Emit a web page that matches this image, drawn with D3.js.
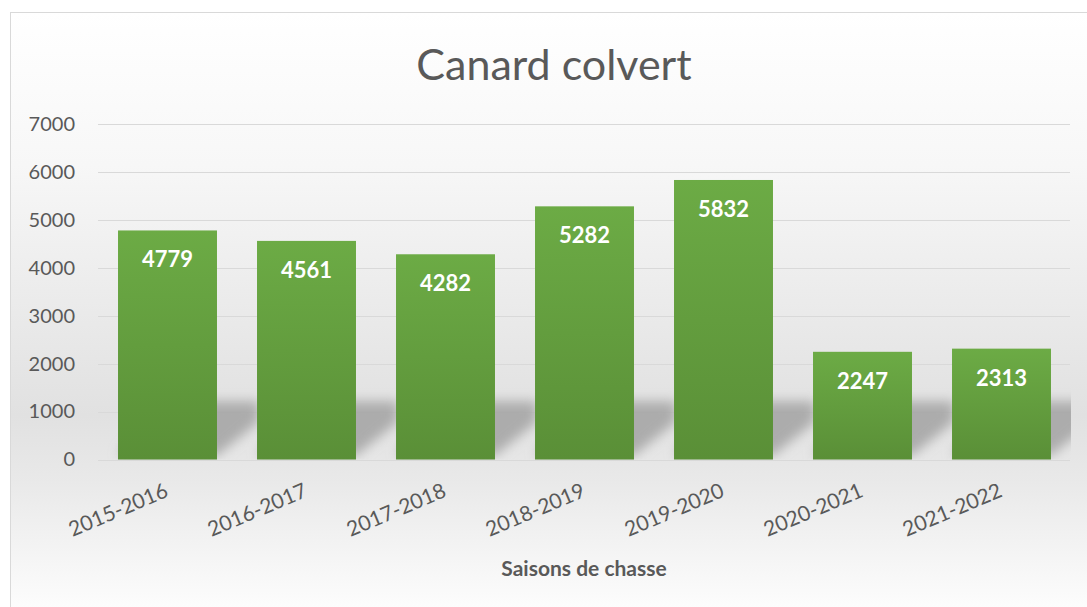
<!DOCTYPE html>
<html>
<head>
<meta charset="utf-8">
<script src="https://cdn.jsdelivr.net/npm/d3@7"></script>
<style>
	body { margin: 0; background: white; }
	svg { display: block; }
</style>
</head>
<body>
<div id="chart"></div>
<script>
// data
var seasons = ['2015-2016', '2016-2017', '2017-2018', '2018-2019', '2019-2020', '2020-2021', '2021-2022'];
var counts = [4779, 4561, 4282, 5282, 5832, 2247, 2313];
var y_ticks = [0, 1000, 2000, 3000, 4000, 5000, 6000, 7000];

var data = seasons.map(function(s, i) { return {season: s, count: counts[i]}; });

var font = 'Lato, "Open Sans", sans-serif';
var grey_text = '#595959';

var svg = d3.select('#chart')
	.append('svg')
	.attr('width', 1087)
	.attr('height', 607);

var defs = svg.append('defs');

// chart background
var bg = defs.append('linearGradient')
	.attr('id', 'bg')
	.attr('x1', 0).attr('y1', 0).attr('x2', 0).attr('y2', 1);
bg.append('stop').attr('offset', '0%').attr('stop-color', '#ffffff');
bg.append('stop').attr('offset', '25%').attr('stop-color', '#f7f7f7');
bg.append('stop').attr('offset', '66%').attr('stop-color', '#e1e1e1');
bg.append('stop').attr('offset', '77%').attr('stop-color', '#e9e9e9');
bg.append('stop').attr('offset', '100%').attr('stop-color', '#ffffff');

// bar fill
var bar_grad = defs.append('linearGradient')
	.attr('id', 'bar_grad')
	.attr('x1', 0).attr('y1', 0).attr('x2', 0).attr('y2', 1);
bar_grad.append('stop').attr('offset', '0%').attr('stop-color', '#6cab45');
bar_grad.append('stop').attr('offset', '100%').attr('stop-color', '#5a8f37');

defs.append('filter')
	.attr('id', 'blur')
	.attr('x', '-50%').attr('y', '-50%').attr('width', '200%').attr('height', '200%')
	.append('feGaussianBlur')
	.attr('stdDeviation', 6);

svg.append('rect')
	.attr('x', 10.5)
	.attr('y', 12.5)
	.attr('width', 1090)
	.attr('height', 610)
	.style('fill', 'url(#bg)')
	.style('stroke', '#d9d9d9')
	.style('stroke-width', 1);

// title
svg.append('text')
	.attr('text-anchor', 'middle')
	.attr('x', 554)
	.attr('y', 80)
	.text('Canard colvert')
	.style('font-family', font)
	.style('font-size', '43px')
	.style('fill', grey_text);

// scales
var x = d3.scaleBand()
	.domain(seasons)
	.range([98, 1071])
	.paddingInner(0.288)
	.paddingOuter(0.144);

var y = d3.scaleLinear()
	.domain([0, 7000])
	.range([459.5, 124]);

defs.append('clipPath')
	.attr('id', 'plot_clip')
	.append('rect')
	.attr('x', 98)
	.attr('y', y(7000))
	.attr('width', 1071 - 98)
	.attr('height', y(0) - y(7000));

// gridlines
svg.append('g')
	.selectAll('line')
	.data(y_ticks)
	.enter()
	.append('line')
		.attr('x1', 98)
		.attr('x2', 1070)
		.attr('y1', function(d) { return Math.round(y(d)) + 0.5; })
		.attr('y2', function(d) { return Math.round(y(d)) + 0.5; })
		.style('stroke', '#d9d9d9')
		.style('stroke-width', 1.2);

// y axis labels
var y_axis = svg.append('g')
	.attr('transform', 'translate(98,0)')
	.call(d3.axisLeft(y).tickValues(y_ticks).tickFormat(d3.format('d')).tickSize(0).tickPadding(23));
y_axis.select('.domain').remove();
y_axis.selectAll('text')
	.style('font-family', font)
	.style('font-size', '20px')
	.style('fill', grey_text);

// bar shadows
var base = y(0);
svg.append('g')
	.attr('clip-path', 'url(#plot_clip)')
	.append('g')
	.attr('filter', 'url(#blur)')
	.selectAll('polygon')
	.data(data)
	.enter()
	.append('polygon')
		.attr('points', function(d) {
			var x0 = x(d.season);
			var x1 = x0 + x.bandwidth();
			return [
				[x0, base - 4], [x1, base - 4], [x1 + 42, base - 38],
				[x1 + 42, base - 58], [x0 + 42, base - 58]
			].join(' ');
		})
		.style('fill', '#a2a2a2')
		.style('opacity', 0.85);

// bars
svg.append('g')
	.selectAll('rect')
	.data(data)
	.enter()
	.append('rect')
		.attr('x', function(d) { return x(d.season); })
		.attr('y', function(d) { return y(d.count); })
		.attr('width', x.bandwidth())
		.attr('height', function(d) { return y(0) - y(d.count); })
		.style('fill', 'url(#bar_grad)');

// value labels
svg.append('g')
	.selectAll('text')
	.data(data)
	.enter()
	.append('text')
		.attr('text-anchor', 'middle')
		.attr('x', function(d) { return x(d.season) + x.bandwidth() / 2; })
		.attr('y', function(d) { return y(d.count) + 37; })
		.text(function(d) { return d.count; })
		.style('font-family', font)
		.style('font-weight', 'bold')
		.style('font-size', '22px')
		.style('fill', 'white');

// x labels
svg.append('g')
	.selectAll('text')
	.data(seasons)
	.enter()
	.append('text')
		.attr('text-anchor', 'end')
		.attr('transform', function(d) {
			return 'translate(' + (x(d) + x.bandwidth() / 2 + 2) + ',496) rotate(-23)';
		})
		.text(function(d) { return d; })
		.style('font-family', font)
		.style('font-size', '21px')
		.style('fill', grey_text);

// x axis title
svg.append('text')
	.attr('text-anchor', 'middle')
	.attr('x', 584)
	.attr('y', 576)
	.text('Saisons de chasse')
	.style('font-family', font)
	.style('font-weight', 'bold')
	.style('font-size', '21px')
	.style('fill', grey_text);
</script>
</body>
</html>
